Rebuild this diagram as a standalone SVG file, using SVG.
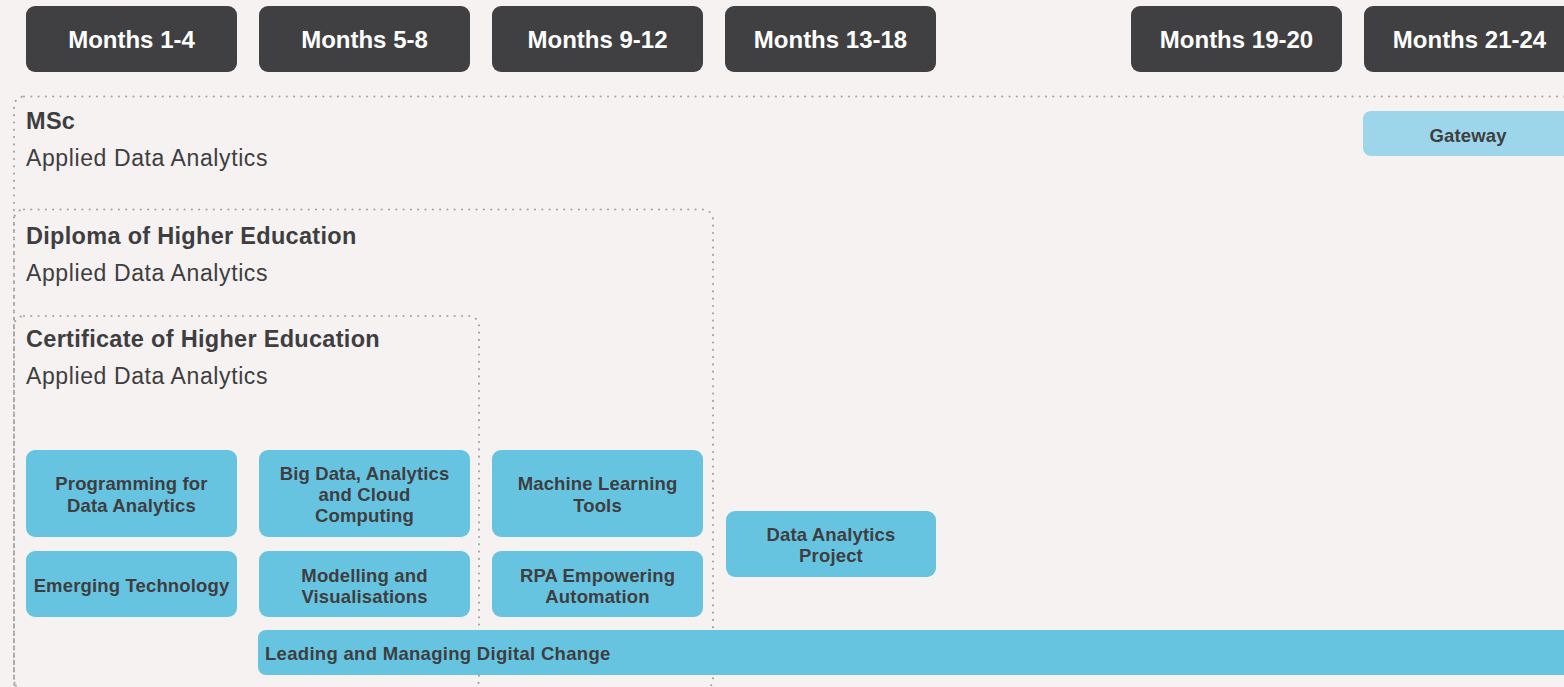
<svg xmlns="http://www.w3.org/2000/svg" width="1564" height="687" viewBox="0 0 1564 687">
<style>
.hdr{fill:#404042}
.hdrt{fill:#ffffff;font-family:"Liberation Sans",Arial,sans-serif;font-weight:bold;font-size:24px;text-anchor:middle}
.mod{fill:#67c4e1}
.gw{fill:#9dd5ea}
.modt{fill:#3e3e41;font-family:"Liberation Sans",Arial,sans-serif;font-weight:bold;font-size:18.5px;letter-spacing:0.15px;text-anchor:middle}
.ttl{fill:#3e3e41;font-family:"Liberation Sans",Arial,sans-serif;font-weight:bold;font-size:23.5px;letter-spacing:0.3px}
.sub{fill:#3e3e41;font-family:"Liberation Sans",Arial,sans-serif;font-size:23px;letter-spacing:0.6px}
.dot{fill:none;stroke:#a6a6a9;stroke-width:2.2;stroke-linecap:round;stroke-dasharray:0 7.3}
</style>
<rect width="1564" height="687" fill="#f5f2f1"/>
<g id="headers">
<g id="h1"><rect class="hdr" x="26" y="6" width="211" height="66" rx="9"/><text class="hdrt" x="131.5" y="48">Months 1-4</text></g>
<g id="h2"><rect class="hdr" x="259" y="6" width="211" height="66" rx="9"/><text class="hdrt" x="364.5" y="48">Months 5-8</text></g>
<g id="h3"><rect class="hdr" x="492" y="6" width="211" height="66" rx="9"/><text class="hdrt" x="597.5" y="48">Months 9-12</text></g>
<g id="h4"><rect class="hdr" x="725" y="6" width="211" height="66" rx="9"/><text class="hdrt" x="830.5" y="48">Months 13-18</text></g>
<g id="h5"><rect class="hdr" x="1131" y="6" width="211" height="66" rx="9"/><text class="hdrt" x="1236.5" y="48">Months 19-20</text></g>
<g id="h6"><rect class="hdr" x="1364" y="6" width="211" height="66" rx="9"/><text class="hdrt" x="1469.5" y="48">Months 21-24</text></g>
</g>
<g id="msc">
<rect class="dot" x="14" y="96.5" width="1600" height="600" rx="10"/>
<text class="ttl" x="26" y="129">MSc</text>
<text class="sub" x="26" y="166">Applied Data Analytics</text>
</g>
<g id="diploma">
<rect class="dot" x="14" y="209.5" width="699" height="480" rx="10"/>
<text class="ttl" x="26" y="244">Diploma of Higher Education</text>
<text class="sub" x="26" y="281">Applied Data Analytics</text>
</g>
<g id="certificate">
<rect class="dot" x="14" y="316" width="465" height="374" rx="10"/>
<text class="ttl" x="26" y="346.5">Certificate of Higher Education</text>
<text class="sub" x="26" y="383.5">Applied Data Analytics</text>
</g>
<g id="gateway"><rect class="gw" x="1363" y="111" width="212" height="45" rx="8"/><text class="modt" x="1468" y="141.5">Gateway</text></g>
<g id="prog"><rect class="mod" x="26" y="450" width="211" height="87" rx="9"/><text class="modt" x="131.5" y="490">Programming for</text><text class="modt" x="131.5" y="511.5">Data Analytics</text></g>
<g id="emerg"><rect class="mod" x="26" y="551" width="211" height="66" rx="9"/><text class="modt" x="131.5" y="591.5">Emerging Technology</text></g>
<g id="bigdata"><rect class="mod" x="259" y="450" width="211" height="87" rx="9"/><text class="modt" x="364.5" y="480">Big Data, Analytics</text><text class="modt" x="364.5" y="501">and Cloud</text><text class="modt" x="364.5" y="522">Computing</text></g>
<g id="model"><rect class="mod" x="259" y="551" width="211" height="66" rx="9"/><text class="modt" x="364.5" y="581.5">Modelling and</text><text class="modt" x="364.5" y="602.5">Visualisations</text></g>
<g id="ml"><rect class="mod" x="492" y="450" width="211" height="87" rx="9"/><text class="modt" x="597.5" y="490">Machine Learning</text><text class="modt" x="597.5" y="511.5">Tools</text></g>
<g id="rpa"><rect class="mod" x="492" y="551" width="211" height="66" rx="9"/><text class="modt" x="597.5" y="581.5">RPA Empowering</text><text class="modt" x="597.5" y="602.5">Automation</text></g>
<g id="dap"><rect class="mod" x="726" y="511" width="210" height="66" rx="9"/><text class="modt" x="831" y="541">Data Analytics</text><text class="modt" x="831" y="562">Project</text></g>
<g id="leading"><rect class="mod" x="258" y="630" width="1320" height="45" rx="8"/><text class="modt" x="265" y="660" style="text-anchor:start;letter-spacing:0.3px">Leading and Managing Digital Change</text></g>
<g id="connectors"></g>
</svg>
